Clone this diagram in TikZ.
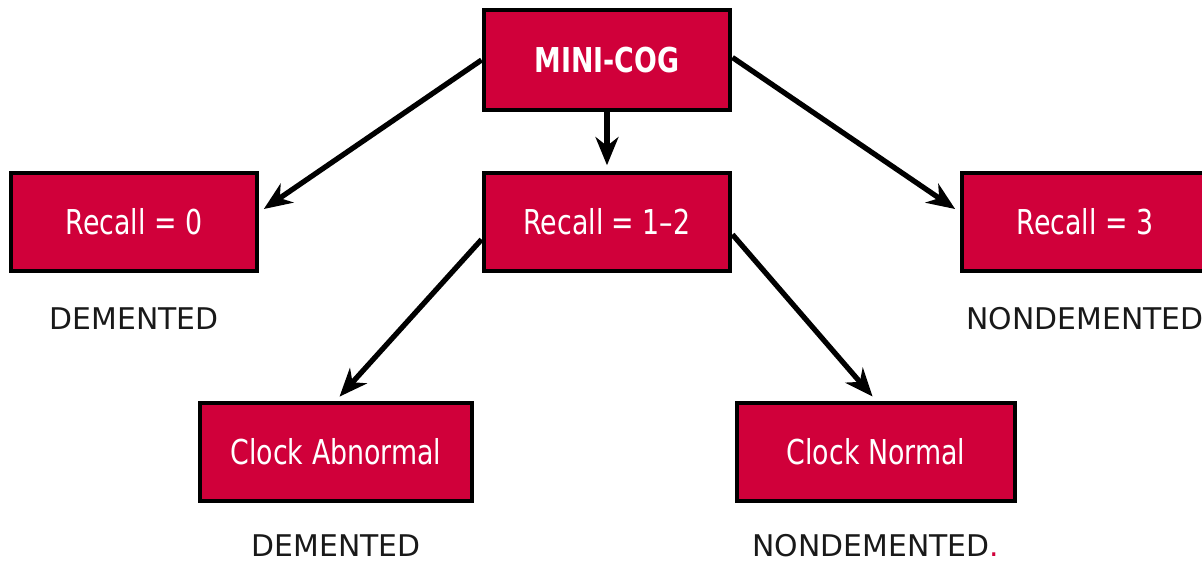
\documentclass[tikz,border=0pt]{standalone}
\usepackage{fontspec}
\setmainfont{DejaVu Sans}
\newfontfamily\boxfont[FakeStretch=0.87,Ligatures=TeX]{DejaVu Sans Condensed}
\usepackage{tikz}
\usetikzlibrary{arrows.meta}
\usetikzlibrary{positioning}
\definecolor{cogred}{RGB}{208,0,58}
\begin{document}
\begin{tikzpicture}[node distance=2cm,on grid,
    box/.style={draw=black,line width=2.8pt,fill=cogred,text=white,minimum width=4.92cm,minimum height=1.96cm,font=\boxfont\fontsize{19.5}{22}\selectfont},
    verdict/.style={text=black!90,font=\fontsize{17}{20}\selectfont},
    arr/.style={-{Stealth[length=16pt,width=13pt,inset=5pt]},line width=3pt}]
			\useasboundingbox (-12.14,1.2) rectangle (11.9,-10.06);
			\node[box,minimum height=2cm,font=\boxfont\fontsize{19.5}{22}\selectfont\bfseries] (mini) {MINI-COG};
			\node[box] (r12) [below=3.24cm of mini] {Recall = 1--2};
			\node[box] (r0) [left=9.46cm of r12] {Recall = 0};
			\node[box] (r3) [right=9.56cm of r12] {Recall = 3};
			\node[box,minimum width=5.44cm] (cab) [below left=4.6cm and 5.42cm of r12] {Clock Abnormal};
			\node[box,minimum width=5.56cm] (cn) [below right=4.6cm and 5.38cm of r12] {Clock Normal};
			\node[verdict] (d0) [below=1.94cm of r0] {DEMENTED};
			\node[verdict] (n3) [below=1.94cm of r3] {NONDEMENTED};
			\node[verdict] (d1) [below=1.88cm of cab] {DEMENTED};
			\node[verdict] (n2) [below=1.88cm of cn] {NONDEMENTED\textcolor{cogred}{.}};
			\path[arr,shorten >=3pt] 
			(mini.west) edge ([yshift=0.2cm]r0.east)
			(mini.south) edge (r12.north)
			([yshift=0.05cm]mini.east) edge ([yshift=0.2cm]r3.west)
			([yshift=-0.35cm]r12.west) edge (cab.north)
			([yshift=-0.25cm]r12.east) edge (cn.north);
		\end{tikzpicture}
\end{document}
